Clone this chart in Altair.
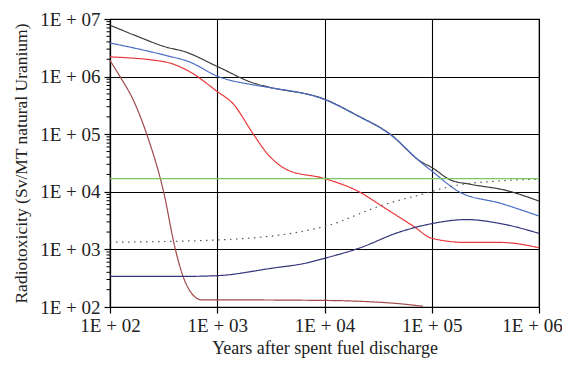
import altair as alt
import pandas as pd

# ---- data ----
total_years = [100, 180, 325, 500, 1000, 2240, 3000, 10000, 20000, 41000, 80000, 100000, 150000, 230000, 500000, 1000000]
total_vals = [7.8e6, 5.0e6, 3.3e6, 2.7e6, 1.5e6, 7.6e5, 6.6e5, 4.05e5, 2.14e5, 1.0e5, 3.3e4, 2.65e4, 1.6e4, 1.35e4, 1.05e4, 6.9e3]

pu_years = [100, 325, 550, 1000, 2240, 3000, 10000, 20000, 41000, 80000, 100000, 180000, 440000, 1000000]
pu_vals = [3.84e6, 2.35e6, 1.8e6, 1.02e6, 7.1e5, 6.5e5, 4.0e5, 2.12e5, 9.9e4, 3.2e4, 2.3e4, 1.0e4, 6.3e3, 3.8e3]

ma_years = [100, 325, 560, 1000, 1400, 2170, 2900, 4500, 10000, 21000, 35000, 68000, 100000, 210000, 440000, 1000000]
ma_vals = [2.2e6, 1.8e6, 1.2e6, 5.5e5, 3.4e5, 1.0e5, 4.7e4, 2.4e4, 1.7e4, 1.0e4, 5.5e3, 2.5e3, 1.56e3, 1.32e3, 1.32e3, 1.07e3]

fp_years = [100, 124, 165, 220, 316, 407, 480, 575, 716, 1000, 10000, 25000, 50000, 83000]
fp_vals = [1.9e6, 1.0e6, 3.9e5, 1.0e5, 1.0e4, 1.0e3, 340, 174, 133, 133, 130, 124, 114, 103]

other_years = [100, 480, 1000, 3200, 6600, 10000, 21000, 50000, 100000, 210000, 440000, 1000000]
other_vals = [340, 340, 350, 470, 575, 700, 1050, 2000, 2800, 3300, 2800, 1900]

daughters_years = [100, 1000, 6600, 10000, 35000, 89000, 150000, 440000, 1000000]
daughters_vals = [1.33e3, 1.46e3, 2.1e3, 2.5e3, 5.9e3, 9.5e3, 1.24e4, 1.55e4, 1.65e4]

uranium_years = [100, 1000000]
uranium_vals = [1.7e4, 1.7e4]

series_names = ["Total", "Pu", "MA", "FP", "Other", "Daughters", "Uranium"]
series_colors = ["#3a3a3a", "#4a6cc4", "#e8383c", "#a04a4a", "#34347e", "#555555", "#7cc860"]
series_dash = [[1, 0], [1, 0], [1, 0], [1, 0], [1, 0], [1.5, 4.5], [1, 0]]

x_ticks = [1e2, 1e3, 1e4, 1e5, 1e6]
y_ticks = [1e2, 1e3, 1e4, 1e5, 1e6, 1e7]
y_minor = [m * 10 ** k for k in range(2, 7) for m in range(2, 10)]

# ---- build table ----
all_sets = [
    (total_years, total_vals),
    (pu_years, pu_vals),
    (ma_years, ma_vals),
    (fp_years, fp_vals),
    (other_years, other_vals),
    (daughters_years, daughters_vals),
    (uranium_years, uranium_vals),
]
rows = []
for name, (xs, ys) in zip(series_names, all_sets):
    for xv, yv in zip(xs, ys):
        rows.append({"series": name, "year": xv, "value": yv})
df = pd.DataFrame(rows)

xscale = alt.Scale(type="log", domain=[1e2, 1e6])
yscale = alt.Scale(type="log", domain=[1e2, 1e7])

label_expr = "'1E + 0' + round(log(datum.value) / LN10)"

yaxis = alt.Axis(
    values=y_ticks,
    labelExpr=label_expr,
    title="Radiotoxicity (Sv/MT natural Uranium)",
    titleFontSize=17.5,
    tickSize=6,
    labelPadding=4,
    titlePadding=9,
    labelFlush=False,
)

lines = alt.Chart(df).mark_line(strokeWidth=1.2, interpolate="monotone").encode(
    x=alt.X(
        "year:Q",
        scale=xscale,
        axis=alt.Axis(
            values=x_ticks,
            labelExpr=label_expr,
            title="Years after spent fuel discharge",
            titleFontSize=18,
            tickSize=6,
            labelPadding=3,
            titlePadding=4,
            labelFlush=False,
            labelOverlap=False,
            labelOffset={"condition": {"test": "datum.value > 500000", "value": -7}, "value": 0},
        ),
    ),
    y=alt.Y("value:Q", scale=yscale, axis=yaxis),
    color=alt.Color(
        "series:N",
        scale=alt.Scale(domain=series_names, range=series_colors),
        legend=None,
    ),
    strokeDash=alt.StrokeDash(
        "series:N",
        scale=alt.Scale(domain=series_names, range=series_dash),
        legend=None,
    ),
    detail="series:N",
)

minor = alt.Chart(pd.DataFrame({"value": y_minor})).mark_rule(color="black", strokeWidth=1).encode(
    y=alt.Y("value:Q", scale=yscale, axis=yaxis),
    x=alt.value(-3.5),
    x2=alt.value(0),
)

chart = (
    alt.layer(lines, minor)
    .properties(
        width=429,
        height=288,
        autosize=alt.AutoSizeParams(type="none"),
        padding={"left": 102, "top": 11, "right": 23, "bottom": 52},
        background="white",
    )
    .configure_view(stroke="black", strokeWidth=1.2)
    .configure_axis(
        grid=True,
        gridColor="black",
        gridWidth=1.1,
        gridOpacity=1,
        domainColor="black",
        domainWidth=1.2,
        tickColor="black",
        tickWidth=1.2,
        labelFont="Liberation Serif",
        labelFontSize=19,
        labelColor="#222222",
        titleFont="Liberation Serif",
        titleFontWeight="normal",
        titleColor="#222222",
    )
)

chart.save("out.html", embed_options={"renderer": "svg", "actions": False})
